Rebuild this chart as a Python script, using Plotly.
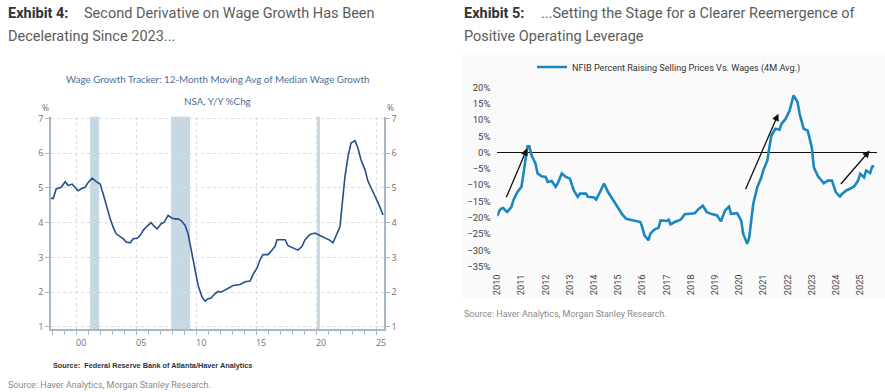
import plotly.graph_objects as go

W, H = 885, 392

# ---------------- Exhibit 4 data (Atlanta Fed wage growth tracker, %) ----------------
wage_dates = ["1997-11", "1998-02", "1998-05", "1998-10", "1999-02", "1999-05", "1999-09", "1999-12",
              "2000-03", "2000-07", "2000-10", "2001-01", "2001-05", "2001-09", "2002-01", "2002-04",
              "2002-07", "2002-11", "2003-02", "2003-05", "2003-09", "2003-12", "2004-03", "2004-07",
              "2004-10", "2005-02", "2005-05", "2005-08", "2005-11", "2006-04", "2006-07", "2006-10",
              "2007-02", "2007-05", "2007-09", "2008-01", "2008-04", "2008-07", "2008-10", "2009-02",
              "2009-05", "2009-08", "2009-12", "2010-03", "2010-07", "2010-10", "2011-01", "2011-04",
              "2011-08", "2011-11", "2012-02", "2012-09", "2013-02", "2013-09", "2014-02", "2014-07",
              "2014-10", "2015-02", "2015-05", "2015-08", "2016-01", "2016-04", "2016-08", "2016-10",
              "2017-06", "2017-09", "2018-02", "2018-07", "2018-11", "2019-02", "2019-07", "2019-12",
              "2020-05", "2020-10", "2021-03", "2021-06", "2021-09", "2022-01", "2022-03", "2022-06",
              "2022-09", "2022-12", "2023-04", "2023-07", "2023-10", "2024-02", "2024-05", "2024-08",
              "2024-12", "2025-03", "2025-06", "2025-08"]
wage_values = [4.7, 4.7, 4.97, 5.02, 5.18, 5.07, 5.11, 5.02,
               4.92, 4.99, 5.02, 5.16, 5.28, 5.18, 5.11, 4.83,
               4.49, 4.11, 3.87, 3.68, 3.60, 3.54, 3.44, 3.42,
               3.54, 3.55, 3.63, 3.78, 3.87, 4.0, 3.90, 3.82,
               3.97, 4.01, 4.21, 4.13, 4.11, 4.11, 4.06, 3.92,
               3.68, 3.25, 2.67, 2.20, 1.86, 1.74, 1.81, 1.83,
               1.96, 2.02, 2.0, 2.1, 2.19, 2.22, 2.30, 2.32,
               2.51, 2.70, 2.94, 3.08, 3.08, 3.18, 3.32, 3.51,
               3.51, 3.34, 3.27, 3.21, 3.32, 3.51, 3.66, 3.70,
               3.63, 3.56, 3.49, 3.42, 3.61, 3.89, 4.47, 5.33,
               5.90, 6.29, 6.36, 6.14, 5.81, 5.52, 5.19, 5.0,
               4.80, 4.58, 4.37, 4.22]
recession_starts = ["2001-03-01", "2007-12-01", "2020-02-01"]
recession_ends = ["2001-11-30", "2009-06-30", "2020-04-30"]
wage_tick_years = [2000, 2005, 2010, 2015, 2020, 2025]
wage_tick_text = ["00", "05", "10", "15", "20", "25"]
wage_y_ticks = [1, 2, 3, 4, 5, 6, 7]

# ---------------- Exhibit 5 data (NFIB, % raising prices vs wages, 4M avg) ----------------
nfib_dates = ["2010-01", "2010-02", "2010-03", "2010-04", "2010-05", "2010-06", "2010-08", "2010-09",
              "2010-11", "2011-01", "2011-02", "2011-03", "2011-04", "2011-05", "2011-06", "2011-08",
              "2011-09", "2011-11", "2012-01", "2012-02", "2012-04", "2012-06", "2012-07", "2012-09",
              "2012-11", "2013-01", "2013-03", "2013-05", "2013-06", "2013-09", "2013-10", "2014-01",
              "2014-02", "2014-04", "2014-06", "2014-08", "2014-10", "2015-01", "2015-03", "2015-05",
              "2015-07", "2015-09", "2015-12", "2016-01", "2016-02", "2016-04", "2016-05", "2016-07",
              "2016-09", "2016-10", "2017-01", "2017-02", "2017-03", "2017-05", "2017-08", "2017-10",
              "2018-01", "2018-03", "2018-05", "2018-07", "2018-09", "2018-11", "2019-02", "2019-04",
              "2019-06", "2019-08", "2019-09", "2019-12", "2020-02", "2020-03", "2020-05", "2020-06",
              "2020-07", "2020-08", "2020-10", "2020-12", "2021-01", "2021-03", "2021-04", "2021-05",
              "2021-07", "2021-09", "2021-10", "2021-12", "2022-02", "2022-03", "2022-04", "2022-06",
              "2022-07", "2022-09", "2022-11", "2023-01", "2023-02", "2023-04", "2023-05", "2023-07",
              "2023-09", "2023-11", "2024-01", "2024-03", "2024-04", "2024-06", "2024-08", "2024-10",
              "2024-12", "2025-01", "2025-03", "2025-04", "2025-06", "2025-07", "2025-08"]
nfib_values = [-19.5, -17.8, -17.2, -17.0, -17.7, -18.2, -16.7, -14.6,
               -12.1, -10.5, -6.4, -1.8, 1.9, 1.9, -0.8, -3.4,
               -6.4, -7.3, -7.5, -9.0, -8.7, -10.5, -9.5, -6.4,
               -7.5, -8.0, -11.6, -13.6, -12.6, -12.6, -13.6, -13.8,
               -14.4, -12.1, -9.5, -12.1, -14.1, -16.7, -18.9, -20.3,
               -20.6, -21.0, -21.3, -23.0, -25.4, -26.9, -24.8, -23.6,
               -23.0, -20.8, -21.0, -20.6, -22.0, -21.3, -20.6, -18.9,
               -18.6, -18.6, -17.3, -16.3, -18.3, -18.8, -19.3, -21.1,
               -17.8, -16.6, -18.8, -18.6, -20.9, -24.9, -28.0, -26.0,
               -20.9, -15.7, -10.6, -7.6, -5.3, -2.5, 1.6, 5.2,
               7.3, 7.0, 8.8, 10.3, 12.9, 15.4, 17.5, 15.4,
               11.9, 7.3, 6.7, 1.6, -4.5, -7.1, -7.8, -9.4,
               -8.6, -8.6, -12.2, -13.5, -12.7, -11.7, -11.1, -10.4,
               -8.6, -6.5, -7.6, -5.5, -6.3, -4.3, -4.1]
nfib_tick_years = list(range(2010, 2026))
arrow_tails = [("2010-05-08", -14.2), ("2020-03-28", -11.7), ("2024-02-24", -10.1)]
arrow_heads = [("2011-03-28", 1.3), ("2021-08-15", 11.9), ("2025-05-26", 0.6)]


def px_x(p):
    return p / W


def px_y(p):
    return 1 - p / H


fig = go.Figure()

# Exhibit 4 traces
fig.add_trace(go.Scatter(x=wage_dates, y=wage_values, mode="lines",
                         line=dict(color="#24508a", width=1.6),
                         xaxis="x", yaxis="y", showlegend=False, hoverinfo="skip"))
fig.add_trace(go.Scatter(x=wage_dates, y=wage_values, mode="lines",
                         line=dict(color="rgba(0,0,0,0)", width=0),
                         xaxis="x", yaxis="y3", showlegend=False, hoverinfo="skip"))

# Exhibit 5 trace
fig.add_trace(go.Scatter(x=nfib_dates, y=nfib_values, mode="lines",
                         name="NFIB Percent Raising Selling Prices Vs. Wages (4M Avg.)",
                         line=dict(color="#1b87c0", width=2.6),
                         xaxis="x2", yaxis="y2", showlegend=True, hoverinfo="skip"))

gray_tick = dict(family="Open Sans, Noto Sans, sans-serif", size=9, color="#707070")
axis_line_col = "#a9b8c6"

shapes = []
# light background of exhibit 5
shapes.append(dict(type="rect", xref="paper", yref="paper", x0=px_x(462), x1=1.0,
                   y0=px_y(298), y1=px_y(55), fillcolor="#fafafa", line=dict(width=0), layer="below"))
# recession shading
for s, e in zip(recession_starts, recession_ends):
    shapes.append(dict(type="rect", xref="x", yref="y domain", x0=s, x1=e, y0=0, y1=1,
                       fillcolor="#c6d8e4", line=dict(width=0), layer="below"))

annotations = []
head_font = dict(family="Roboto, sans-serif", size=14.5, color="#5c5c5c")
bold_font = dict(family="Roboto, sans-serif", size=14.5, color="#333333")
annotations += [
    dict(text="<b>Exhibit 4:</b>", x=px_x(6), y=px_y(14), xref="paper", yref="paper",
         xanchor="left", yanchor="middle", showarrow=False, font=bold_font),
    dict(text="Second Derivative on Wage Growth Has Been", x=px_x(82), y=px_y(14), xref="paper",
         yref="paper", xanchor="left", yanchor="middle", showarrow=False, font=head_font),
    dict(text="Decelerating Since 2023...", x=px_x(6), y=px_y(36), xref="paper", yref="paper",
         xanchor="left", yanchor="middle", showarrow=False, font=head_font),
    dict(text="<b>Exhibit 5:</b>", x=px_x(462), y=px_y(14), xref="paper", yref="paper",
         xanchor="left", yanchor="middle", showarrow=False, font=bold_font),
    dict(text="...Setting the Stage for a Clearer Reemergence of", x=px_x(539), y=px_y(14),
         xref="paper", yref="paper", xanchor="left", yanchor="middle", showarrow=False, font=head_font),
    dict(text="Positive Operating Leverage", x=px_x(462), y=px_y(36), xref="paper", yref="paper",
         xanchor="left", yanchor="middle", showarrow=False, font=head_font),
    # inner chart title
    dict(text="Wage Growth Tracker: 12-Month Moving Avg of Median Wage Growth", x=px_x(217.5),
         y=px_y(79), xref="paper", yref="paper", xanchor="center", yanchor="middle", showarrow=False,
         font=dict(family="Lato, sans-serif", size=9.8, color="#4b7099")),
    dict(text="NSA, Y/Y %Chg", x=px_x(217.5), y=px_y(101), xref="paper", yref="paper",
         xanchor="center", yanchor="middle", showarrow=False,
         font=dict(family="Lato, sans-serif", size=9.8, color="#4b7099")),
    dict(text="%", x=px_x(45), y=px_y(107.5), xref="paper", yref="paper", xanchor="center",
         yanchor="middle", showarrow=False,
         font=dict(family="Open Sans, Noto Sans, sans-serif", size=8.5, color="#707070")),
    dict(text="%", x=px_x(390), y=px_y(107.5), xref="paper", yref="paper", xanchor="center",
         yanchor="middle", showarrow=False,
         font=dict(family="Open Sans, Noto Sans, sans-serif", size=8.5, color="#707070")),
    dict(text="<b>Source:  Federal Reserve Bank of Atlanta/Haver Analytics</b>", x=px_x(51),
         y=px_y(365), xref="paper", yref="paper", xanchor="left", yanchor="middle", showarrow=False,
         font=dict(family="Liberation Sans, Arial, sans-serif", size=7.3, color="#2b3340")),
    dict(text="Source: Haver Analytics, Morgan Stanley Research.", x=px_x(6), y=px_y(385),
         xref="paper", yref="paper", xanchor="left", yanchor="middle", showarrow=False,
         font=dict(family="Roboto, sans-serif", size=9, color="#8a8a8a")),
    dict(text="Source: Haver Analytics, Morgan Stanley Research.", x=px_x(462), y=px_y(314),
         xref="paper", yref="paper", xanchor="left", yanchor="middle", showarrow=False,
         font=dict(family="Roboto, sans-serif", size=9, color="#8a8a8a")),
]
for (tx, ty), (hx, hy) in zip(arrow_tails, arrow_heads):
    annotations.append(dict(x=hx, y=hy, ax=tx, ay=ty, xref="x2", yref="y2", axref="x2", ayref="y2",
                            showarrow=True, arrowhead=2, arrowsize=1.1, arrowwidth=1.3,
                            arrowcolor="#111111", text=""))

fig.update_layout(
    template="none",
    width=W, height=H, margin=dict(l=0, r=0, t=0, b=0, autoexpand=False),
    paper_bgcolor="white", plot_bgcolor="rgba(0,0,0,0)",
    shapes=shapes, annotations=annotations,
    showlegend=True,
    legend=dict(x=px_x(532), y=px_y(67), xanchor="left", yanchor="middle", bgcolor="rgba(0,0,0,0)",
                font=dict(family="Roboto, sans-serif", size=9.1, color="#333333"),
                itemwidth=30, borderwidth=0),
    xaxis=dict(domain=[px_x(51), px_x(384)], anchor="y", type="date", automargin=False,
               range=["1997-11-25", "2025-09-01"],
               tickmode="array", tickvals=[f"{y}-01-01" for y in wage_tick_years],
               ticktext=wage_tick_text, ticklabelshift=5,
               ticks="outside", ticklen=4, tickcolor=axis_line_col,
               minor=dict(tickmode="linear", tick0="1998-01-01", dtick="M12", ticks="outside",
                          ticklen=4, tickcolor=axis_line_col, showgrid=False),
               showgrid=True, gridcolor="#dcdcdc", griddash="dot", gridwidth=1,
               showline=True, linecolor=axis_line_col, linewidth=1.5,
               tickfont=gray_tick, zeroline=False, fixedrange=True),
    yaxis=dict(domain=[px_y(329), px_y(116.7)], anchor="x", range=[0.94, 7.05], automargin=False,
               tickmode="array", tickvals=wage_y_ticks,
               ticks="outside", ticklen=4, tickcolor=axis_line_col,
               showgrid=True, gridcolor="#dcdcdc", griddash="dot", gridwidth=1,
               showline=True, linecolor=axis_line_col, linewidth=1.5,
               tickfont=gray_tick, zeroline=False, fixedrange=True),
    yaxis3=dict(overlaying="y", side="right", anchor="x", range=[0.94, 7.05], automargin=False,
                tickmode="array", tickvals=wage_y_ticks,
                ticks="outside", ticklen=4, tickcolor=axis_line_col,
                showgrid=False, showline=True, linecolor=axis_line_col, linewidth=1.5,
                tickfont=gray_tick, zeroline=False, fixedrange=True),
    xaxis2=dict(domain=[px_x(497.3), px_x(877)], anchor="y2", type="date", automargin=False,
                range=["2010-01-01", "2025-09-12"],
                tickmode="array", tickvals=[f"{y}-01-01" for y in nfib_tick_years],
                ticktext=[str(y) for y in nfib_tick_years], tickangle=-90,
                ticks="outside", ticklen=3, tickcolor="rgba(0,0,0,0)",
                showgrid=False, showline=False, zeroline=False,
                tickfont=dict(family="Roboto, sans-serif", size=9.3, color="#444444"),
                fixedrange=True),
    yaxis2=dict(domain=[px_y(266.7), px_y(87.3)], anchor="x2", range=[-35, 20], automargin=False,
                tickmode="linear", tick0=-35, dtick=5, ticksuffix="%",
                ticks="outside", ticklen=4, tickcolor="rgba(0,0,0,0)",
                showgrid=False, showline=False,
                zeroline=True, zerolinecolor="#111111", zerolinewidth=1,
                tickfont=dict(family="Roboto, sans-serif", size=9.5, color="#444444"),
                fixedrange=True),
)

fig.write_html("out.html", config={"displayModeBar": False},
               post_script="document.body.style.margin='0';document.body.style.overflow='hidden';")
